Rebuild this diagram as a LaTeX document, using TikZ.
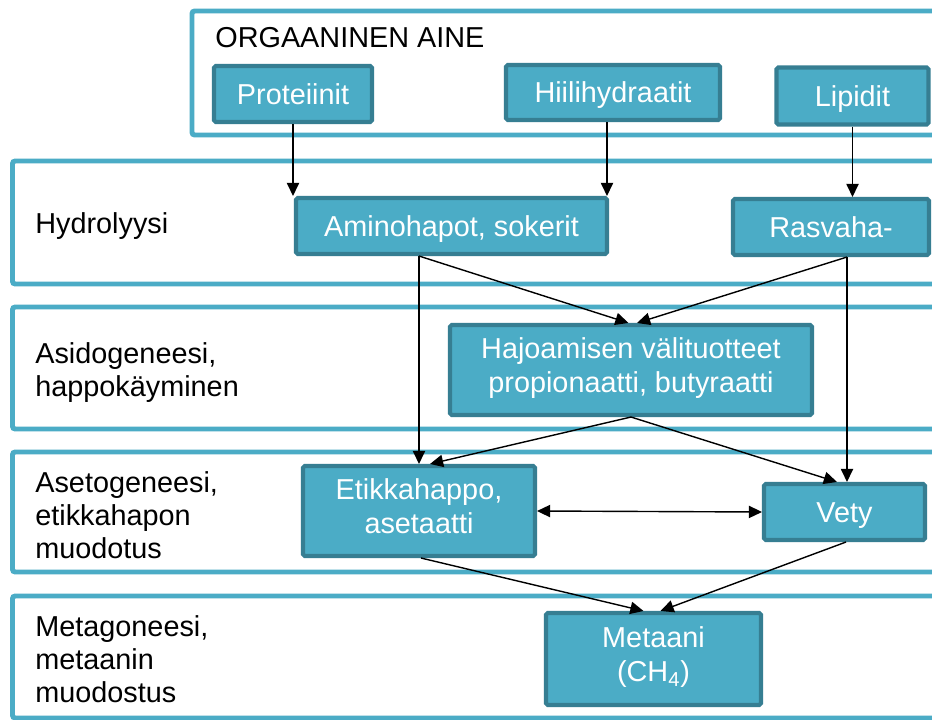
\documentclass[tikz,border=0pt]{standalone}
\usepackage{fontspec}
\setmainfont{Liberation Sans}
\usetikzlibrary{arrows.meta}
\definecolor{aqua}{HTML}{4BACC6}
\definecolor{aquadark}{HTML}{367E92}

\begin{document}
\begin{tikzpicture}[
  stage/.style={draw=aqua,line width=2.8pt,rounded corners=1.5pt},
  proc/.style={rectangle,draw=aquadark,line width=2.3pt,fill=aqua,text=white,align=center,rounded corners=1pt,inner sep=0pt,
    font=\fontsize{16.4}{19.3}\selectfont,
    execute at begin node={\rule{0pt}{17.3pt}},execute at end node={\rule[-5.6pt]{0pt}{0pt}}},
  phase/.style={anchor=west,align=left,text=black,inner sep=0pt,font=\fontsize{16.4}{18.8}\selectfont},
  arr/.style={-{Triangle[length=7.5pt,width=7pt]},line width=0.8pt,draw=black},
]
  \clip (0,0) rectangle (18.64,-14.4);
  \fill[white] (0,0) rectangle (18.64,-14.4);

  % stages
  \draw[stage] (3.84,-0.22) rectangle (19.2,-2.70);
  \draw[stage] (0.25,-3.22) rectangle (19.2,-5.68);
  \draw[stage] (0.25,-6.14) rectangle (19.2,-8.58);
  \draw[stage] (0.25,-9.04) rectangle (19.2,-11.44);
  \draw[stage] (0.25,-11.92) rectangle (19.2,-14.36);

  \node[phase] (lorg) at (4.30,-0.76) {ORGAANINEN AINE};
  \node[phase] (lhyd) at (0.70,-4.52) {Hydrolyysi};
  \node[phase] (lasi) at (0.70,-7.45) {Asidogeneesi,\\happokäyminen};
  \node[phase] (laset) at (0.70,-10.30) {Asetogeneesi,\\etikkahapon\\muodotus};
  \node[phase] (lmet) at (0.70,-13.19) {Metagoneesi,\\metaanin\\muodostus};

  % processes
  \node[proc,minimum width=3.16cm,minimum height=1.12cm] (prot) at (5.86,-1.88) {Proteiinit};
  \node[proc,minimum width=4.28cm,minimum height=1.10cm] (hiili) at (12.26,-1.85) {Hiilihydraatit};
  \node[proc,minimum width=3.04cm,minimum height=1.14cm] (lipid) at (17.05,-1.92) {Lipidit};
  \node[proc,minimum width=6.22cm,minimum height=1.12cm] (amino) at (9.03,-4.52) {Aminohapot, sokerit};
  \node[proc,minimum width=3.92cm,minimum height=1.12cm] (rasva) at (16.62,-4.54) {Rasvaha-};
  \node[proc,minimum width=7.24cm,minimum height=1.80cm] (hajo) at (12.62,-7.40) {Hajoamisen välituotteet\\propionaatti, butyraatti};
  \node[proc,minimum width=4.64cm,minimum height=1.80cm] (etikka) at (8.38,-10.22) {Etikkahappo,\\asetaatti};
  \node[proc,minimum width=3.22cm,minimum height=1.12cm] (vety) at (16.89,-10.24) {Vety};
  \node[proc,minimum width=4.30cm,minimum height=1.84cm] (metaani) at (13.07,-13.18) {Metaani\\(CH\textsubscript{4})};

  \coordinate (a1) at ([xshift=-0.65cm]amino.south);
  \coordinate (r1) at ([xshift=0.32cm]rasva.south);

  \draw[arr] (prot.south) -- (prot.south |- amino.north);
  \draw[arr] ([xshift=-0.12cm]hiili.south) -- ([xshift=-0.12cm]hiili.south |- amino.north);
  \draw[arr] (lipid.south) -- (lipid.south |- rasva.north);
  \draw[arr] (a1) -- ([xshift=-0.05cm]hajo.north);
  \draw[arr] (r1) -- ([xshift=0.12cm]hajo.north);
  \draw[arr] (a1) -- (a1 |- etikka.north);
  \draw[arr] (r1) -- (r1 |- vety.north);
  \draw[arr] (hajo.south) -- ([xshift=0.22cm]etikka.north);
  \draw[arr] (hajo.south) -- ([xshift=-0.15cm]vety.north);
  \draw[{Triangle[length=7.5pt,width=7pt]}-{Triangle[length=7.5pt,width=7pt]},line width=0.8pt] (etikka.east) -- (vety.west);
  \draw[arr] ([xshift=0.04cm]etikka.south) -- ([xshift=-0.2cm]metaani.north);
  \draw[arr] ([xshift=0.03cm]vety.south) -- ([xshift=0.14cm]metaani.north);
\end{tikzpicture}
\end{document}
